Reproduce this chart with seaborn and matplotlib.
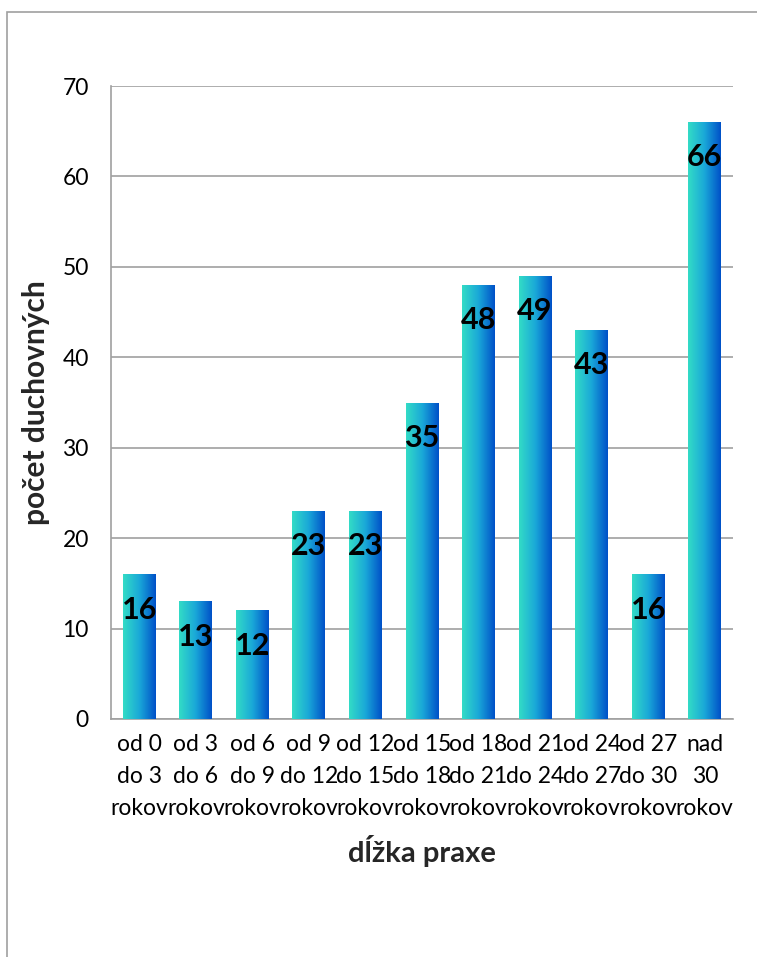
import numpy as np
import pandas as pd
import matplotlib
matplotlib.use("Agg")
import matplotlib.pyplot as plt
import seaborn as sns
from matplotlib.colors import LinearSegmentedColormap
from matplotlib.patches import Rectangle

categories = ["od 0\ndo 3\nrokov", "od 3\ndo 6\nrokov", "od 6\ndo 9\nrokov",
              "od 9\ndo 12\nrokov", "od 12\ndo 15\nrokov", "od 15\ndo 18\nrokov",
              "od 18\ndo 21\nrokov", "od 21\ndo 24\nrokov", "od 24\ndo 27\nrokov",
              "od 27\ndo 30\nrokov", "nad\n30\nrokov"]
values = [16, 13, 12, 23, 23, 35, 48, 49, 43, 16, 66]
yticks = [0, 10, 20, 30, 40, 50, 60, 70]

sns.set_theme(style="white")
plt.rcParams['font.family'] = ['Lato', 'DejaVu Sans']

df = pd.DataFrame({"cat": categories, "val": values})

fig = plt.figure(figsize=(7.57, 9.57), dpi=100)
ax = fig.add_axes([0.1466, 0.2487, 0.9683 - 0.1466, 0.9101 - 0.2487])

sns.barplot(data=df, x="cat", y="val", ax=ax, color="#1890D0", width=0.58,
            saturation=1, zorder=3)

cmap = LinearSegmentedColormap.from_list("g", ["#33DCC6", "#1AA8D8", "#0050C8"])
grad = np.linspace(0, 1, 256).reshape(1, -1)
for p in ax.patches:
    x0, y0 = p.get_x(), p.get_y()
    w, h = p.get_width(), p.get_height()
    im = ax.imshow(grad, cmap=cmap, aspect="auto", extent=[x0, x0 + w, y0, y0 + h],
                   zorder=4, interpolation="bicubic")
    im.set_clip_path(p)
    p.set_edgecolor("none")

for i, v in enumerate(values):
    ax.text(i, v - 3.9, str(v), ha="center", va="center", fontsize=22,
            fontweight="bold", color="black", zorder=6)

ax.set_xlim(-0.5, len(values) - 0.5)
ax.set_ylim(0, 70)
ax.set_yticks(yticks)
ax.yaxis.grid(True, color="#A0A0A0", linewidth=1.2, zorder=0)
ax.set_axisbelow(True)
for s in ["top", "right"]:
    ax.spines[s].set_visible(False)
for s in ["left", "bottom"]:
    ax.spines[s].set_color("#A0A0A0")
    ax.spines[s].set_linewidth(1.2)
ax.tick_params(axis="y", labelsize=16.5, colors="black", length=0, pad=16)
ax.tick_params(axis="x", labelsize=16.5, colors="black", length=0, pad=11)
for t in ax.get_xticklabels():
    t.set_linespacing(1.65)
ax.set_xlabel("dĺžka praxe", fontsize=21, fontweight="bold", labelpad=11)
ax.set_ylabel("počet duchovných", fontsize=21.5, fontweight="bold", labelpad=9)

fig.patches.append(Rectangle((7 / 757, -0.05), 1.1, 1 - 12 / 957 + 0.05,
                             transform=fig.transFigure, fill=False,
                             edgecolor="#A0A0A0", linewidth=1.2))

fig.savefig("out.png", dpi=100)
